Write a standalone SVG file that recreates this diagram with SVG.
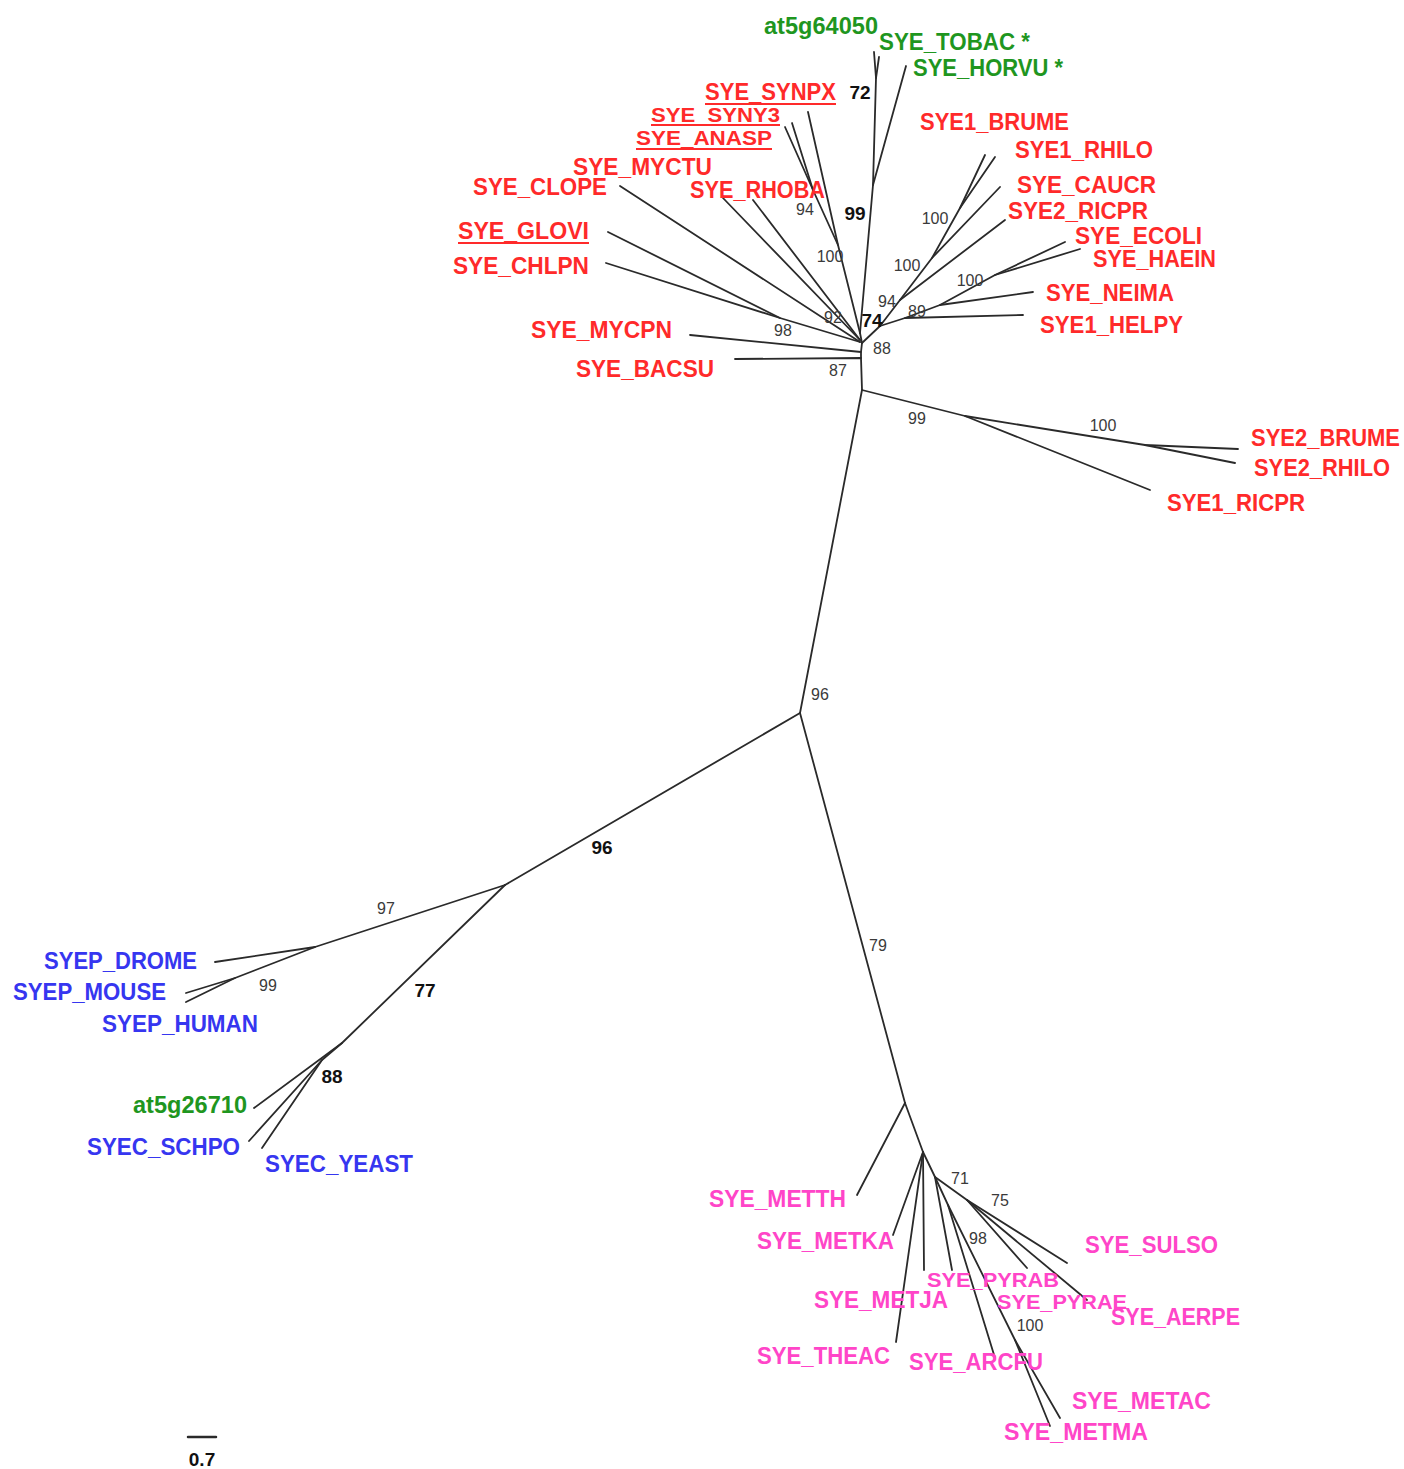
<svg xmlns="http://www.w3.org/2000/svg" width="1404" height="1469" viewBox="0 0 1404 1469">
  <style>
    .br { fill: none; stroke: #2a2a2a; stroke-width: 1.8; stroke-linecap: round; stroke-linejoin: round; }
    .lab { font-family: "Liberation Sans", Arial, sans-serif; font-weight: bold; font-size: 23px; }
    .sm { font-size: 20px; }
    .red { fill: #ff2a2a; }
    .grn { fill: #1f961f; }
    .blu { fill: #3636f0; }
    .mag { fill: #ff45c8; }
    .ul { stroke: #ff2a2a; stroke-width: 2; }
    .bs { font-family: "Liberation Sans", Arial, sans-serif; font-size: 16px; fill: #3a3a3a; text-anchor: middle; }
    .bsb { font-family: "Liberation Sans", Arial, sans-serif; font-size: 19px; font-weight: bold; fill: #111; text-anchor: middle; }
  </style>
  <rect width="1404" height="1469" fill="#ffffff"/>

  <!-- branches of the unrooted tree -->
  <g id="connectors" class="br">
    <!-- backbone -->
    <path d="M800,713 L862,390"/>
    <path d="M800,713 L505,885"/>
    <path d="M800,713 L905,1103"/>

    <!-- bacterial clade -->
    <path d="M862,390 L965,416 L1150,490"/>
    <path d="M965,416 L1145,445 L1238,449"/>
    <path d="M1145,445 L1235,463"/>
    <path d="M862,390 L861,358 L735,359"/>
    <path d="M861,358 L861,352 L690,335"/>
    <path d="M861,352 L862,343"/>
    <!-- alpha / gamma proteobacteria -->
    <path d="M862,343 L880,326"/>
    <path d="M880,326 L900,300 L932,258 L960,208 L985,155"/>
    <path d="M960,208 L995,157"/>
    <path d="M932,258 L1000,187"/>
    <path d="M900,300 L1005,220"/>
    <path d="M880,326 L905,318 L1023,315"/>
    <path d="M905,318 L940,305 L1033,292"/>
    <path d="M940,305 L995,275 L1065,242"/>
    <path d="M995,275 L1080,249"/>
    <!-- plants and cyanobacteria -->
    <path d="M862,343 L860,333"/>
    <path d="M860,333 L873,185 L906,66"/>
    <path d="M873,185 L876,78 L874,52"/>
    <path d="M876,78 L879,57"/>
    <path d="M860,333 L838,245 L808,112"/>
    <path d="M838,245 L813,190 L792,123"/>
    <path d="M813,190 L785,127"/>
    <!-- remaining bacteria -->
    <path d="M860,340 L753,200"/>
    <path d="M860,340 L723,198"/>
    <path d="M860,342 L620,186"/>
    <path d="M860,342 L780,318 L608,232"/>
    <path d="M780,318 L606,263"/>

    <!-- eukaryotic clade -->
    <path d="M505,885 L315,947 L215,962"/>
    <path d="M315,947 L235,978 L186,993"/>
    <path d="M235,978 L186,1002"/>
    <path d="M505,885 L342,1043 L254,1108"/>
    <path d="M342,1043 L322,1060 L249,1141"/>
    <path d="M322,1060 L262,1148"/>

    <!-- archaeal clade -->
    <path d="M905,1103 L857,1195"/>
    <path d="M905,1103 L923,1152 L893,1235"/>
    <path d="M923,1152 L896,1342"/>
    <path d="M923,1152 L924,1270"/>
    <path d="M923,1152 L935,1177 L952,1270"/>
    <path d="M935,1177 L967,1200 L1067,1263"/>
    <path d="M967,1200 L1027,1268"/>
    <path d="M967,1200 L1087,1300"/>
    <path d="M935,1177 L948,1205 L995,1358"/>
    <path d="M948,1205 L1015,1340 L1050,1426"/>
    <path d="M1015,1340 L1060,1418"/>

    <!-- scale bar -->
    <path d="M188,1437 L216,1437" stroke-width="2.5"/>
  </g>

  <!-- bacterial leaves -->
  <g id="SYE_SYNPX"><text class="lab red" x="705" y="100" textLength="131" lengthAdjust="spacingAndGlyphs">SYE_SYNPX</text><line class="ul" x1="705" y1="104" x2="836" y2="104"/></g>
  <g id="SYE_SYNY3"><text class="lab sm red" x="651" y="122" textLength="129" lengthAdjust="spacingAndGlyphs">SYE_SYNY3</text><line class="ul" x1="651" y1="125" x2="780" y2="125"/></g>
  <g id="SYE_ANASP"><text class="lab sm red" x="636" y="145" textLength="136" lengthAdjust="spacingAndGlyphs">SYE_ANASP</text><line class="ul" x1="636" y1="149" x2="772" y2="149"/></g>
  <g id="SYE_MYCTU"><text class="lab red" x="573" y="175" textLength="139" lengthAdjust="spacingAndGlyphs">SYE_MYCTU</text></g>
  <g id="SYE_CLOPE"><text class="lab red" x="473" y="195" textLength="134" lengthAdjust="spacingAndGlyphs">SYE_CLOPE</text></g>
  <g id="SYE_RHOBA"><text class="lab red" x="690" y="198" textLength="135" lengthAdjust="spacingAndGlyphs">SYE_RHOBA</text></g>
  <g id="SYE_GLOVI"><text class="lab red" x="458" y="239" textLength="131" lengthAdjust="spacingAndGlyphs">SYE_GLOVI</text><line class="ul" x1="458" y1="243" x2="589" y2="243"/></g>
  <g id="SYE_CHLPN"><text class="lab red" x="453" y="274" textLength="136" lengthAdjust="spacingAndGlyphs">SYE_CHLPN</text></g>
  <g id="SYE_MYCPN"><text class="lab red" x="531" y="338" textLength="141" lengthAdjust="spacingAndGlyphs">SYE_MYCPN</text></g>
  <g id="SYE_BACSU"><text class="lab red" x="576" y="377" textLength="138" lengthAdjust="spacingAndGlyphs">SYE_BACSU</text></g>
  <g id="SYE1_BRUME"><text class="lab red" x="920" y="130" textLength="149" lengthAdjust="spacingAndGlyphs">SYE1_BRUME</text></g>
  <g id="SYE1_RHILO"><text class="lab red" x="1015" y="158" textLength="138" lengthAdjust="spacingAndGlyphs">SYE1_RHILO</text></g>
  <g id="SYE_CAUCR"><text class="lab red" x="1017" y="193" textLength="139" lengthAdjust="spacingAndGlyphs">SYE_CAUCR</text></g>
  <g id="SYE2_RICPR"><text class="lab red" x="1008" y="219" textLength="140" lengthAdjust="spacingAndGlyphs">SYE2_RICPR</text></g>
  <g id="SYE_ECOLI"><text class="lab red" x="1075" y="244" textLength="127" lengthAdjust="spacingAndGlyphs">SYE_ECOLI</text></g>
  <g id="SYE_HAEIN"><text class="lab red" x="1093" y="267" textLength="123" lengthAdjust="spacingAndGlyphs">SYE_HAEIN</text></g>
  <g id="SYE_NEIMA"><text class="lab red" x="1046" y="301" textLength="128" lengthAdjust="spacingAndGlyphs">SYE_NEIMA</text></g>
  <g id="SYE1_HELPY"><text class="lab red" x="1040" y="333" textLength="143" lengthAdjust="spacingAndGlyphs">SYE1_HELPY</text></g>
  <g id="SYE2_BRUME"><text class="lab red" x="1251" y="446" textLength="149" lengthAdjust="spacingAndGlyphs">SYE2_BRUME</text></g>
  <g id="SYE2_RHILO"><text class="lab red" x="1254" y="476" textLength="136" lengthAdjust="spacingAndGlyphs">SYE2_RHILO</text></g>
  <g id="SYE1_RICPR"><text class="lab red" x="1167" y="511" textLength="138" lengthAdjust="spacingAndGlyphs">SYE1_RICPR</text></g>

  <!-- plant leaves -->
  <g id="at5g64050"><text class="lab grn" x="764" y="34" textLength="114" lengthAdjust="spacingAndGlyphs">at5g64050</text></g>
  <g id="SYE_TOBAC"><text class="lab grn" x="879" y="50" textLength="151" lengthAdjust="spacingAndGlyphs">SYE_TOBAC *</text></g>
  <g id="SYE_HORVU"><text class="lab grn" x="913" y="76" textLength="150" lengthAdjust="spacingAndGlyphs">SYE_HORVU *</text></g>
  <g id="at5g26710"><text class="lab grn" x="133" y="1113" textLength="114" lengthAdjust="spacingAndGlyphs">at5g26710</text></g>

  <!-- eukaryotic leaves -->
  <g id="SYEP_DROME"><text class="lab blu" x="44" y="969" textLength="153" lengthAdjust="spacingAndGlyphs">SYEP_DROME</text></g>
  <g id="SYEP_MOUSE"><text class="lab blu" x="13" y="1000" textLength="153" lengthAdjust="spacingAndGlyphs">SYEP_MOUSE</text></g>
  <g id="SYEP_HUMAN"><text class="lab blu" x="102" y="1032" textLength="156" lengthAdjust="spacingAndGlyphs">SYEP_HUMAN</text></g>
  <g id="SYEC_SCHPO"><text class="lab blu" x="87" y="1155" textLength="153" lengthAdjust="spacingAndGlyphs">SYEC_SCHPO</text></g>
  <g id="SYEC_YEAST"><text class="lab blu" x="265" y="1172" textLength="148" lengthAdjust="spacingAndGlyphs">SYEC_YEAST</text></g>

  <!-- archaeal leaves -->
  <g id="SYE_METTH"><text class="lab mag" x="709" y="1207" textLength="137" lengthAdjust="spacingAndGlyphs">SYE_METTH</text></g>
  <g id="SYE_METKA"><text class="lab mag" x="757" y="1249" textLength="137" lengthAdjust="spacingAndGlyphs">SYE_METKA</text></g>
  <g id="SYE_SULSO"><text class="lab mag" x="1085" y="1253" textLength="133" lengthAdjust="spacingAndGlyphs">SYE_SULSO</text></g>
  <g id="SYE_PYRAB"><text class="lab sm mag" x="927" y="1287" textLength="132" lengthAdjust="spacingAndGlyphs">SYE_PYRAB</text></g>
  <g id="SYE_METJA"><text class="lab mag" x="814" y="1308" textLength="134" lengthAdjust="spacingAndGlyphs">SYE_METJA</text></g>
  <g id="SYE_PYRAE"><text class="lab sm mag" x="997" y="1309" textLength="130" lengthAdjust="spacingAndGlyphs">SYE_PYRAE</text></g>
  <g id="SYE_AERPE"><text class="lab mag" x="1111" y="1325" textLength="129" lengthAdjust="spacingAndGlyphs">SYE_AERPE</text></g>
  <g id="SYE_THEAC"><text class="lab mag" x="757" y="1364" textLength="133" lengthAdjust="spacingAndGlyphs">SYE_THEAC</text></g>
  <g id="SYE_ARCFU"><text class="lab mag" x="909" y="1370" textLength="134" lengthAdjust="spacingAndGlyphs">SYE_ARCFU</text></g>
  <g id="SYE_METAC"><text class="lab mag" x="1072" y="1409" textLength="139" lengthAdjust="spacingAndGlyphs">SYE_METAC</text></g>
  <g id="SYE_METMA"><text class="lab mag" x="1004" y="1440" textLength="144" lengthAdjust="spacingAndGlyphs">SYE_METMA</text></g>

  <!-- bootstrap support values -->
  <g id="support">
    <text class="bsb" x="860" y="99">72</text>
    <text class="bs" x="805" y="215">94</text>
    <text class="bsb" x="855" y="220">99</text>
    <text class="bs" x="830" y="262">100</text>
    <text class="bs" x="935" y="224">100</text>
    <text class="bs" x="907" y="271">100</text>
    <text class="bs" x="970" y="286">100</text>
    <text class="bs" x="887" y="307">94</text>
    <text class="bs" x="917" y="317">89</text>
    <text class="bsb" x="872" y="327">74</text>
    <text class="bs" x="833" y="323">92</text>
    <text class="bs" x="783" y="336">98</text>
    <text class="bs" x="882" y="354">88</text>
    <text class="bs" x="838" y="376">87</text>
    <text class="bs" x="917" y="424">99</text>
    <text class="bs" x="1103" y="431">100</text>
    <text class="bs" x="820" y="700">96</text>
    <text class="bsb" x="602" y="854">96</text>
    <text class="bs" x="386" y="914">97</text>
    <text class="bs" x="268" y="991">99</text>
    <text class="bsb" x="425" y="997">77</text>
    <text class="bsb" x="332" y="1083">88</text>
    <text class="bs" x="878" y="951">79</text>
    <text class="bs" x="960" y="1184">71</text>
    <text class="bs" x="1000" y="1206">75</text>
    <text class="bs" x="978" y="1244">98</text>
    <text class="bs" x="1030" y="1331">100</text>
  </g>

  <!-- scale bar label -->
  <g id="scale">
    <text class="bsb" x="202" y="1466" font-size="18">0.7</text>
  </g>
</svg>
